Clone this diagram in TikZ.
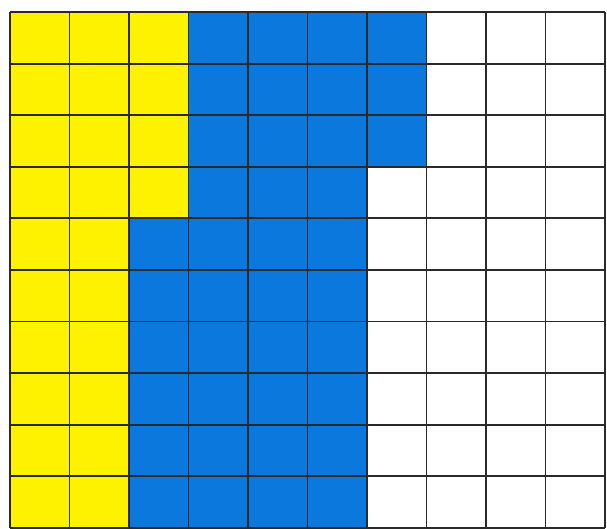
\documentclass[tikz,border=0pt]{standalone}
\usepackage{tikz}
\usetikzlibrary{positioning}
\definecolor{cellyellow}{HTML}{FFF200}
\definecolor{cellblue}{HTML}{0A78DC}
\definecolor{gridline}{HTML}{2A2A2A}

\begin{document}
\begin{tikzpicture}[x=1cm, y=0.867cm,
    yellowpart/.style={fill=cellyellow},
    bluepart/.style={fill=cellblue},
    gridlines/.style={draw=gridline, line width=0.9pt}]
  \useasboundingbox (-0.168,-0.02) rectangle (10.034,10.233);
  % yellow cells
  \foreach \xa/\ya/\xb/\yb in {0/0/2/10, 2/6/3/10} {
    \path[yellowpart] (\xa,\ya) rectangle (\xb,\yb);
  }
  % blue cells
  \foreach \xa/\ya/\xb/\yb in {3/7/7/10, 3/6/6/7, 2/0/6/6} {
    \path[bluepart] (\xa,\ya) rectangle (\xb,\yb);
  }
  \draw[gridlines, xstep=1cm, ystep=0.867cm] (0,0) grid (10,10);
\end{tikzpicture}
\end{document}
